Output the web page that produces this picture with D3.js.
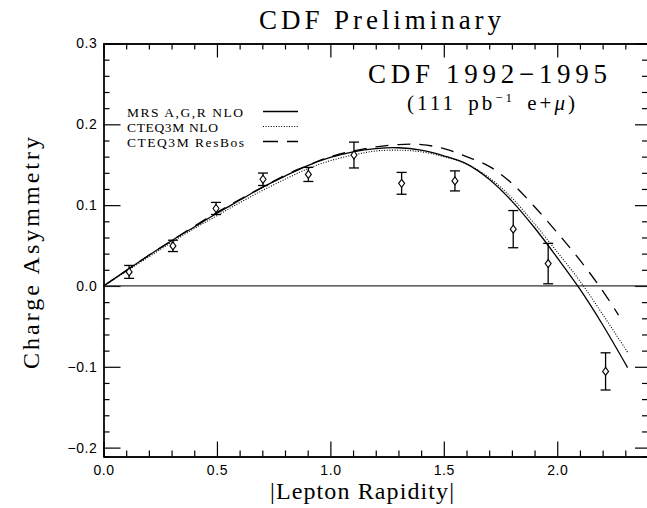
<!DOCTYPE html>
<html>
<head>
<meta charset="utf-8">
<script src="https://cdn.jsdelivr.net/npm/d3@7"></script>
<style>
  body { margin: 0; background: #fff; }
  svg { display: block; }
  .tick text { font-family: "Liberation Sans", Arial, sans-serif; font-size: 14px; letter-spacing: 0.6px; fill: #000; }
  .serif { font-family: "Liberation Serif", "Times New Roman", serif; fill: #000; }
</style>
</head>
<body>
<div id="chart"></div>
<script>
// Measured data (W charge asymmetry)
var rapidity  = [0.113, 0.306, 0.496, 0.703, 0.903, 1.104, 1.314, 1.549, 1.806, 1.960, 2.213];
var asymmetry = [0.0174, 0.0496, 0.0959, 0.132, 0.138, 0.162, 0.127, 0.130, 0.0703, 0.0277, -0.1057];
var asymErr   = [0.008, 0.007, 0.0075, 0.0077, 0.0087, 0.016, 0.0135, 0.0124, 0.023, 0.025, 0.023];

// Theory curves
var curveX = [0, 0.1, 0.2, 0.3, 0.4, 0.5, 0.6, 0.7, 0.8, 0.9, 1.0, 1.1, 1.2, 1.3, 1.4, 1.5, 1.6, 1.7, 1.8, 1.9, 2.0, 2.1, 2.2, 2.31];
var mrsY   = [0, 0.019, 0.038, 0.056, 0.073, 0.090, 0.106, 0.122, 0.136, 0.149, 0.159, 0.166, 0.170, 0.171, 0.168, 0.161, 0.151, 0.132, 0.105, 0.072, 0.035, -0.004, -0.048, -0.101];
var cteqY  = [0, 0.018, 0.036, 0.054, 0.071, 0.087, 0.103, 0.118, 0.132, 0.145, 0.155, 0.162, 0.167, 0.168, 0.166, 0.160, 0.151, 0.134, 0.109, 0.077, 0.042, 0.006, -0.035, -0.082];
var resbosX = [0, 0.1, 0.2, 0.3, 0.4, 0.5, 0.6, 0.7, 0.8, 0.9, 1.0, 1.1, 1.2, 1.3, 1.4, 1.5, 1.6, 1.7, 1.8, 1.9, 2.0, 2.1, 2.2, 2.27];
var resbosY = [0, 0.019, 0.038, 0.056, 0.074, 0.091, 0.107, 0.122, 0.137, 0.149, 0.160, 0.167, 0.172, 0.175, 0.175, 0.170, 0.160, 0.148, 0.127, 0.098, 0.066, 0.032, -0.006, -0.036];

var legendLabels = ["MRS A,G,R NLO", "CTEQ3M NLO", "CTEQ3M ResBos"];
var xMajor = [0, 0.5, 1.0, 1.5, 2.0];
var yMajor = [-0.2, -0.1, 0.0, 0.1, 0.2, 0.3];

// Setting up SVG area
var svgWidth = 647, svgHeight = 508;
var plot = { left: 103.5, right: 648, top: 43.5, bottom: 456.5 };

var svg = d3.select("#chart").append("svg")
  .attr("width", svgWidth)
  .attr("height", svgHeight);

var xScale = d3.scaleLinear().domain([0, 2.4]).range([plot.left, plot.right]);
var yScale = d3.scaleLinear().domain([-0.211, 0.3]).range([plot.bottom, plot.top]);

var xMinor = d3.range(0, 24.5, 1).map(d => d / 10).filter(d => xMajor.indexOf(d) < 0);
var yMinor = d3.range(-10, 15.5, 1).map(d => d / 50).filter(d => yMajor.indexOf(+d.toFixed(2)) < 0);

function styleAxis(g) {
  g.select(".domain").attr("stroke", "#000").attr("stroke-width", 1.3);
  g.selectAll(".tick line").attr("stroke", "#000").attr("stroke-width", 1.2);
}

// Bottom axis with labels
svg.append("g")
  .attr("transform", `translate(0, ${plot.bottom})`)
  .call(d3.axisBottom(xScale).tickValues(xMajor).tickSizeInner(-15).tickSizeOuter(0).tickPadding(9).tickFormat(d3.format(".1f")))
  .call(styleAxis);
svg.append("g")
  .attr("transform", `translate(0, ${plot.bottom})`)
  .call(d3.axisBottom(xScale).tickValues(xMinor).tickSize(-6).tickFormat(""))
  .call(styleAxis);

// Top axis
svg.append("g")
  .attr("transform", `translate(0, ${plot.top})`)
  .call(d3.axisTop(xScale).tickValues(xMajor).tickSizeInner(-14).tickSizeOuter(0).tickFormat(""))
  .call(styleAxis);
svg.append("g")
  .attr("transform", `translate(0, ${plot.top})`)
  .call(d3.axisTop(xScale).tickValues(xMinor).tickSize(-6).tickFormat(""))
  .call(styleAxis);

// Left axis with labels
svg.append("g")
  .attr("transform", `translate(${plot.left}, 0)`)
  .call(d3.axisLeft(yScale).tickValues(yMajor).tickSizeInner(-17).tickSizeOuter(0).tickPadding(6).tickFormat(d3.format(".1f")))
  .call(styleAxis);
svg.append("g")
  .attr("transform", `translate(${plot.left}, 0)`)
  .call(d3.axisLeft(yScale).tickValues(yMinor).tickSize(-6).tickFormat(""))
  .call(styleAxis);

// Right axis
svg.append("g")
  .attr("transform", `translate(${plot.right}, 0)`)
  .call(d3.axisRight(yScale).tickValues(yMajor).tickSizeInner(-13).tickSizeOuter(0).tickFormat(""))
  .call(styleAxis);
svg.append("g")
  .attr("transform", `translate(${plot.right}, 0)`)
  .call(d3.axisRight(yScale).tickValues(yMinor).tickSize(-6).tickFormat(""))
  .call(styleAxis);

// Zero line
svg.append("line")
  .attr("x1", xScale(0)).attr("x2", xScale(2.4))
  .attr("y1", yScale(0)).attr("y2", yScale(0))
  .attr("stroke", "#333").attr("stroke-width", 1.2);

// Theory curves
var line = d3.line().x(d => xScale(d[0])).y(d => yScale(d[1])).curve(d3.curveCatmullRom);

svg.append("path")
  .datum(curveX.map((x, i) => [x, mrsY[i]]))
  .attr("d", line)
  .attr("fill", "none").attr("stroke", "#000").attr("stroke-width", 1.3);

svg.append("path")
  .datum(curveX.map((x, i) => [x, cteqY[i]]))
  .attr("d", line)
  .attr("fill", "none").attr("stroke", "#000").attr("stroke-width", 1.1)
  .attr("stroke-dasharray", "1,1.6");

svg.append("path")
  .datum(resbosX.map((x, i) => [x, resbosY[i]]))
  .attr("d", line)
  .attr("fill", "none").attr("stroke", "#000").attr("stroke-width", 1.3)
  .attr("stroke-dasharray", "13,9");

// Data points with error bars
var points = svg.append("g").selectAll("g")
  .data(rapidity.map((x, i) => ({ x: x, y: asymmetry[i], e: asymErr[i] })))
  .enter().append("g");

points.append("line")
  .attr("x1", d => xScale(d.x)).attr("x2", d => xScale(d.x))
  .attr("y1", d => yScale(d.y + d.e)).attr("y2", d => yScale(d.y - d.e))
  .attr("stroke", "#000").attr("stroke-width", 1.3);
points.append("line")
  .attr("x1", d => xScale(d.x) - 5).attr("x2", d => xScale(d.x) + 5)
  .attr("y1", d => yScale(d.y + d.e)).attr("y2", d => yScale(d.y + d.e))
  .attr("stroke", "#000").attr("stroke-width", 1.3);
points.append("line")
  .attr("x1", d => xScale(d.x) - 5).attr("x2", d => xScale(d.x) + 5)
  .attr("y1", d => yScale(d.y - d.e)).attr("y2", d => yScale(d.y - d.e))
  .attr("stroke", "#000").attr("stroke-width", 1.3);
points.append("path")
  .attr("transform", d => `translate(${xScale(d.x)}, ${yScale(d.y)})`)
  .attr("d", "M0,-4L3,0L0,4L-3,0Z")
  .attr("fill", "#fff").attr("stroke", "#000").attr("stroke-width", 1.1);

// Title and labels
svg.append("text").attr("class", "serif")
  .attr("x", 380).attr("y", 29).attr("text-anchor", "middle")
  .attr("font-size", 27).attr("textLength", 242).attr("lengthAdjust", "spacing")
  .text("CDF Preliminary");

svg.append("text").attr("class", "serif")
  .attr("x", 368).attr("y", 83)
  .attr("font-size", 27).attr("textLength", 239).attr("lengthAdjust", "spacing")
  .text("CDF 1992\u22121995");

var lumi = svg.append("text").attr("class", "serif")
  .attr("x", 407).attr("y", 110).attr("font-size", 21)
  .attr("letter-spacing", 3).attr("word-spacing", 4);
lumi.append("tspan").text("(111 pb");
lumi.append("tspan").attr("font-size", 13).attr("dy", -8).text("\u22121");
lumi.append("tspan").attr("dy", 8).text(" e+");
lumi.append("tspan").attr("font-style", "italic").text("\u03bc");
lumi.append("tspan").text(")");

svg.append("text").attr("class", "serif")
  .attr("x", 362).attr("y", 499).attr("text-anchor", "middle")
  .attr("font-size", 24).attr("textLength", 184).attr("lengthAdjust", "spacing")
  .text("|Lepton Rapidity|");

svg.append("text").attr("class", "serif")
  .attr("transform", "translate(39, 253) rotate(-90)")
  .attr("text-anchor", "middle")
  .attr("font-size", 24).attr("textLength", 232).attr("lengthAdjust", "spacing")
  .text("Charge Asymmetry");

// Legend
var legendWidths = [116, 91, 117];
var legendDash = [null, "1,1.6", "15,9"];
legendLabels.forEach(function(label, i) {
  var y = 116.5 + i * 15;
  svg.append("text").attr("class", "serif")
    .attr("x", 127).attr("y", y).attr("font-size", 13.5)
    .attr("textLength", legendWidths[i]).attr("lengthAdjust", "spacing")
    .text(label);
  svg.append("line")
    .attr("x1", 263).attr("x2", 298)
    .attr("y1", y - 5).attr("y2", y - 5)
    .attr("stroke", "#000").attr("stroke-width", i === 1 ? 1.1 : 1.3)
    .attr("stroke-dasharray", legendDash[i]);
});
</script>
</body>
</html>
